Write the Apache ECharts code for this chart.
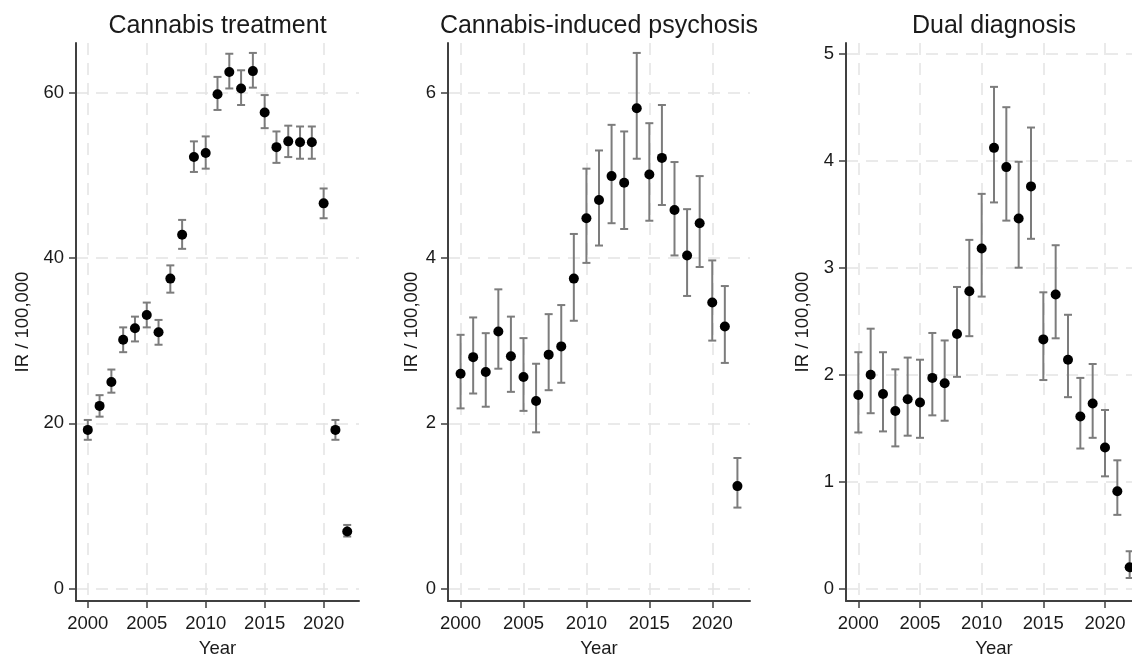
<!DOCTYPE html>
<html>
<head>
<meta charset="utf-8">
<script src="https://cdn.jsdelivr.net/npm/echarts@6/dist/echarts.min.js"></script>
<style>
html,body{margin:0;padding:0;background:#fff;}
#chart{width:1132px;height:654px;}
</style>
</head>
<body>
<div id="chart"></div>
<script>
// ---------------- data ----------------
const years = [2000,2001,2002,2003,2004,2005,2006,2007,2008,2009,2010,2011,2012,2013,2014,2015,2016,2017,2018,2019,2020,2021,2022];
const xTicks = [2000,2005,2010,2015,2020];

const panelTitles = ['Cannabis treatment', 'Cannabis-induced psychosis', 'Dual diagnosis'];

// Panel 1: Cannabis treatment
const treatIR = [19.2,22.1,25.0,30.1,31.5,33.1,31.0,37.5,42.8,52.2,52.7,59.8,62.5,60.5,62.6,57.6,53.4,54.1,54.0,54.0,46.6,19.2,6.9];
const treatLo = [18.0,20.8,23.7,28.6,29.9,31.6,29.5,35.8,41.1,50.4,50.8,57.9,60.5,58.5,60.6,55.7,51.5,52.2,52.0,52.0,44.8,18.0,6.3];
const treatHi = [20.4,23.4,26.5,31.6,32.9,34.6,32.5,39.1,44.6,54.1,54.7,61.9,64.7,62.7,64.8,59.7,55.3,56.0,55.9,55.9,48.4,20.4,7.7];
const treatTicks = [0,20,40,60];

// Panel 2: Cannabis-induced psychosis
const psyIR = [2.60,2.80,2.62,3.11,2.81,2.56,2.27,2.83,2.93,3.75,4.48,4.70,4.99,4.91,5.81,5.01,5.21,4.58,4.03,4.42,3.46,3.17,1.24];
const psyLo = [2.18,2.36,2.20,2.66,2.38,2.15,1.89,2.40,2.49,3.24,3.94,4.15,4.42,4.35,5.20,4.45,4.64,4.03,3.54,3.89,3.00,2.73,0.98];
const psyHi = [3.07,3.28,3.09,3.62,3.29,3.03,2.72,3.32,3.43,4.29,5.08,5.30,5.61,5.53,6.48,5.63,5.85,5.16,4.59,4.99,3.97,3.66,1.58];
const psyTicks = [0,2,4,6];

// Panel 3: Dual diagnosis
const dualIR = [1.81,2.00,1.82,1.66,1.77,1.74,1.97,1.92,2.38,2.78,3.18,4.12,3.94,3.46,3.76,2.33,2.75,2.14,1.61,1.73,1.32,0.91,0.20];
const dualLo = [1.46,1.64,1.47,1.33,1.43,1.41,1.62,1.57,1.98,2.36,2.73,3.61,3.44,3.00,3.27,1.95,2.34,1.79,1.31,1.41,1.05,0.69,0.10];
const dualHi = [2.21,2.43,2.21,2.05,2.16,2.14,2.39,2.32,2.82,3.26,3.69,4.69,4.50,3.99,4.31,2.77,3.21,2.56,1.97,2.10,1.67,1.20,0.35];
const dualTicks = [0,1,2,3,4,5];

// ---------------- layout / style ----------------
const FONT = "'Liberation Sans', Arial, Helvetica, sans-serif";
const AXIS_COLOR = '#404040';
const TEXT_COLOR = '#1a1a1a';
const GRID_COLOR = '#e4e4e4';
const BAR_COLOR = '#7c7c7c';

const panels = [
  {ir: treatIR, lo: treatLo, hi: treatHi, ticks: treatTicks, ymin: -1.5, ymax: 66, grid: {left: 76, top: 43, width: 283, height: 558}, nameGap: 44},
  {ir: psyIR, lo: psyLo, hi: psyHi, ticks: psyTicks, ymin: -0.15, ymax: 6.6, grid: {left: 448, top: 43, width: 302, height: 558}, nameGap: 26},
  {ir: dualIR, lo: dualLo, hi: dualHi, ticks: dualTicks, ymin: -0.115, ymax: 5.1, grid: {left: 846, top: 43, width: 296, height: 558}, nameGap: 34}
];

const grids = [], xAxes = [], yAxes = [], series = [], titles = [];

panels.forEach((p, i) => {
  grids.push(Object.assign({outerBoundsMode: 'none', containLabel: false}, p.grid));
  titles.push({
    text: panelTitles[i],
    left: p.grid.left + p.grid.width / 2,
    top: 14,
    textAlign: 'center',
    padding: 0,
    textStyle: {fontFamily: FONT, fontSize: 25, fontWeight: 'normal', color: TEXT_COLOR}
  });
  xAxes.push({
    type: 'value', gridIndex: i, min: 1999, max: 2023,
    name: 'Year', nameLocation: 'middle', nameGap: 38,
    nameTextStyle: {fontFamily: FONT, fontSize: 18.5, color: TEXT_COLOR},
    axisLine: {show: true, onZero: false, lineStyle: {color: AXIS_COLOR, width: 2}},
    axisTick: {show: true, length: 7, customValues: xTicks, lineStyle: {color: AXIS_COLOR, width: 1.5}},
    axisLabel: {customValues: xTicks, margin: 13, fontFamily: FONT, fontSize: 18.5, color: TEXT_COLOR, formatter: v => String(v)},
    splitLine: {show: true, lineStyle: {color: GRID_COLOR, width: 1.5, type: [12, 8]}}
  });
  yAxes.push({
    type: 'value', gridIndex: i, min: p.ymin, max: p.ymax,
    name: 'IR / 100,000', nameLocation: 'middle', nameGap: p.nameGap,
    nameTextStyle: {fontFamily: FONT, fontSize: 18.5, color: TEXT_COLOR},
    axisLine: {show: true, onZero: false, lineStyle: {color: AXIS_COLOR, width: 2}},
    axisTick: {show: true, length: 7, customValues: p.ticks, lineStyle: {color: AXIS_COLOR, width: 1.5}},
    axisLabel: {customValues: p.ticks, margin: 12, fontFamily: FONT, fontSize: 18.5, color: TEXT_COLOR},
    splitLine: {show: true, lineStyle: {color: GRID_COLOR, width: 1.5, type: [12, 8]}}
  });
  const barData = years.map((y, k) => [y, p.lo[k], p.hi[k]]);
  series.push({
    type: 'custom', xAxisIndex: i, yAxisIndex: i, z: 2,
    data: barData,
    renderItem: function (params, api) {
      const x = api.value(0);
      const lo = api.coord([x, api.value(1)]);
      const hi = api.coord([x, api.value(2)]);
      const hw = 4;
      const style = {stroke: BAR_COLOR, lineWidth: 2, fill: null};
      return {
        type: 'group',
        children: [
          {type: 'line', shape: {x1: lo[0], y1: lo[1], x2: hi[0], y2: hi[1]}, style: style},
          {type: 'line', shape: {x1: lo[0] - hw, y1: lo[1], x2: lo[0] + hw, y2: lo[1]}, style: style},
          {type: 'line', shape: {x1: hi[0] - hw, y1: hi[1], x2: hi[0] + hw, y2: hi[1]}, style: style}
        ]
      };
    }
  });
  series.push({
    type: 'scatter', xAxisIndex: i, yAxisIndex: i, z: 3,
    symbol: 'circle', symbolSize: 10,
    itemStyle: {color: '#000', opacity: 1},
    data: years.map((y, k) => [y, p.ir[k]])
  });
});

const chart = echarts.init(document.getElementById('chart'), null, {renderer: 'canvas'});
chart.setOption({
  animation: false,
  backgroundColor: '#fff',
  title: titles,
  grid: grids,
  xAxis: xAxes,
  yAxis: yAxes,
  series: series
});
</script>
</body>
</html>
